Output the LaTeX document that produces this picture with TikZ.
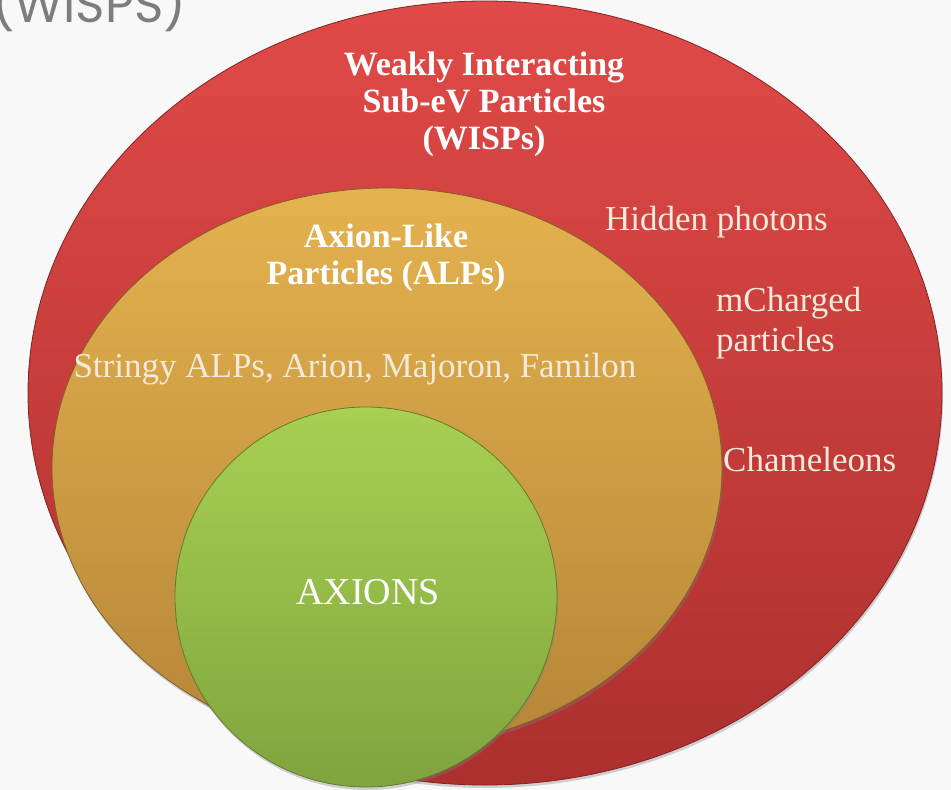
\documentclass[tikz,border=0pt]{standalone}
\usepackage{fontspec}
\setmainfont{Liberation Serif}
\newfontfamily\gothic{Poppins}
\usetikzlibrary{shapes.geometric,shadows}
\definecolor{bgc}{RGB}{248,248,248}
\definecolor{redtop}{RGB}{224,74,72}
\definecolor{redbot}{RGB}{172,48,46}
\definecolor{redline}{RGB}{130,35,35}
\definecolor{ortop}{RGB}{228,178,78}
\definecolor{orbot}{RGB}{182,134,56}
\definecolor{orline}{RGB}{130,95,40}
\definecolor{grtop}{RGB}{168,208,82}
\definecolor{grbot}{RGB}{128,164,62}
\definecolor{grline}{RGB}{95,125,45}
\definecolor{lighttext}{RGB}{243,234,220}
\definecolor{titlegray}{RGB}{125,125,125}
\begin{document}
\begin{tikzpicture}[x=1pt,y=-1pt,
  blob/.style={ellipse, inner sep=0pt, line width=0.8pt,
    drop shadow={shadow xshift=1pt, shadow yshift=-3pt, opacity=0.35}},
  boldlbl/.style={text=white, align=center, inner sep=0pt,
    font=\fontsize{34}{37}\selectfont\bfseries},
  lbl/.style={text=lighttext, align=left, inner sep=0pt,
    font=\fontsize{35}{40}\selectfont}]
\useasboundingbox (0,0) rectangle (951,790);
\clip (0,0) rectangle (951,790);
\fill[bgc] (0,0) rectangle (951,790);
\node[anchor=base west, inner sep=0pt, text=titlegray,
  font=\fontsize{50}{50}\gothic] (slidetitle) at (-8,22) {(WISPS)};
\node[blob, minimum width=914pt, minimum height=784pt,
  top color=redtop, bottom color=redbot, draw=redline] (wisps) at (485,393) {};
\node[blob, minimum width=670pt, minimum height=560pt,
  top color=ortop, bottom color=orbot, draw=orline] (alps) at (387,468) {};
\node[blob, minimum width=382pt, minimum height=380pt,
  top color=grtop, bottom color=grbot, draw=grline] (axions) at (366,597) {};
\node[boldlbl] (wlabel) at (484,104) {Weakly Interacting\\Sub-eV Particles\\(WISPs)};
\node[boldlbl] (alabel) at (386,258) {Axion-Like\\Particles (ALPs)};
\node[lbl] (stringy) at (355,369) {Stringy ALPs, Arion, Majoron, Familon};
\node[lbl, anchor=west] (hidden) at (605,222) {Hidden photons};
\node[lbl, anchor=west] (mcharged) at (716,323) {mCharged\\particles};
\node[lbl, anchor=west] (cham) at (723,460) {Chameleons};
\node[text=white, inner sep=0pt, font=\fontsize{38}{38}\selectfont] (axlabel) at (368,592) {AXIONS};
\end{tikzpicture}
\end{document}
